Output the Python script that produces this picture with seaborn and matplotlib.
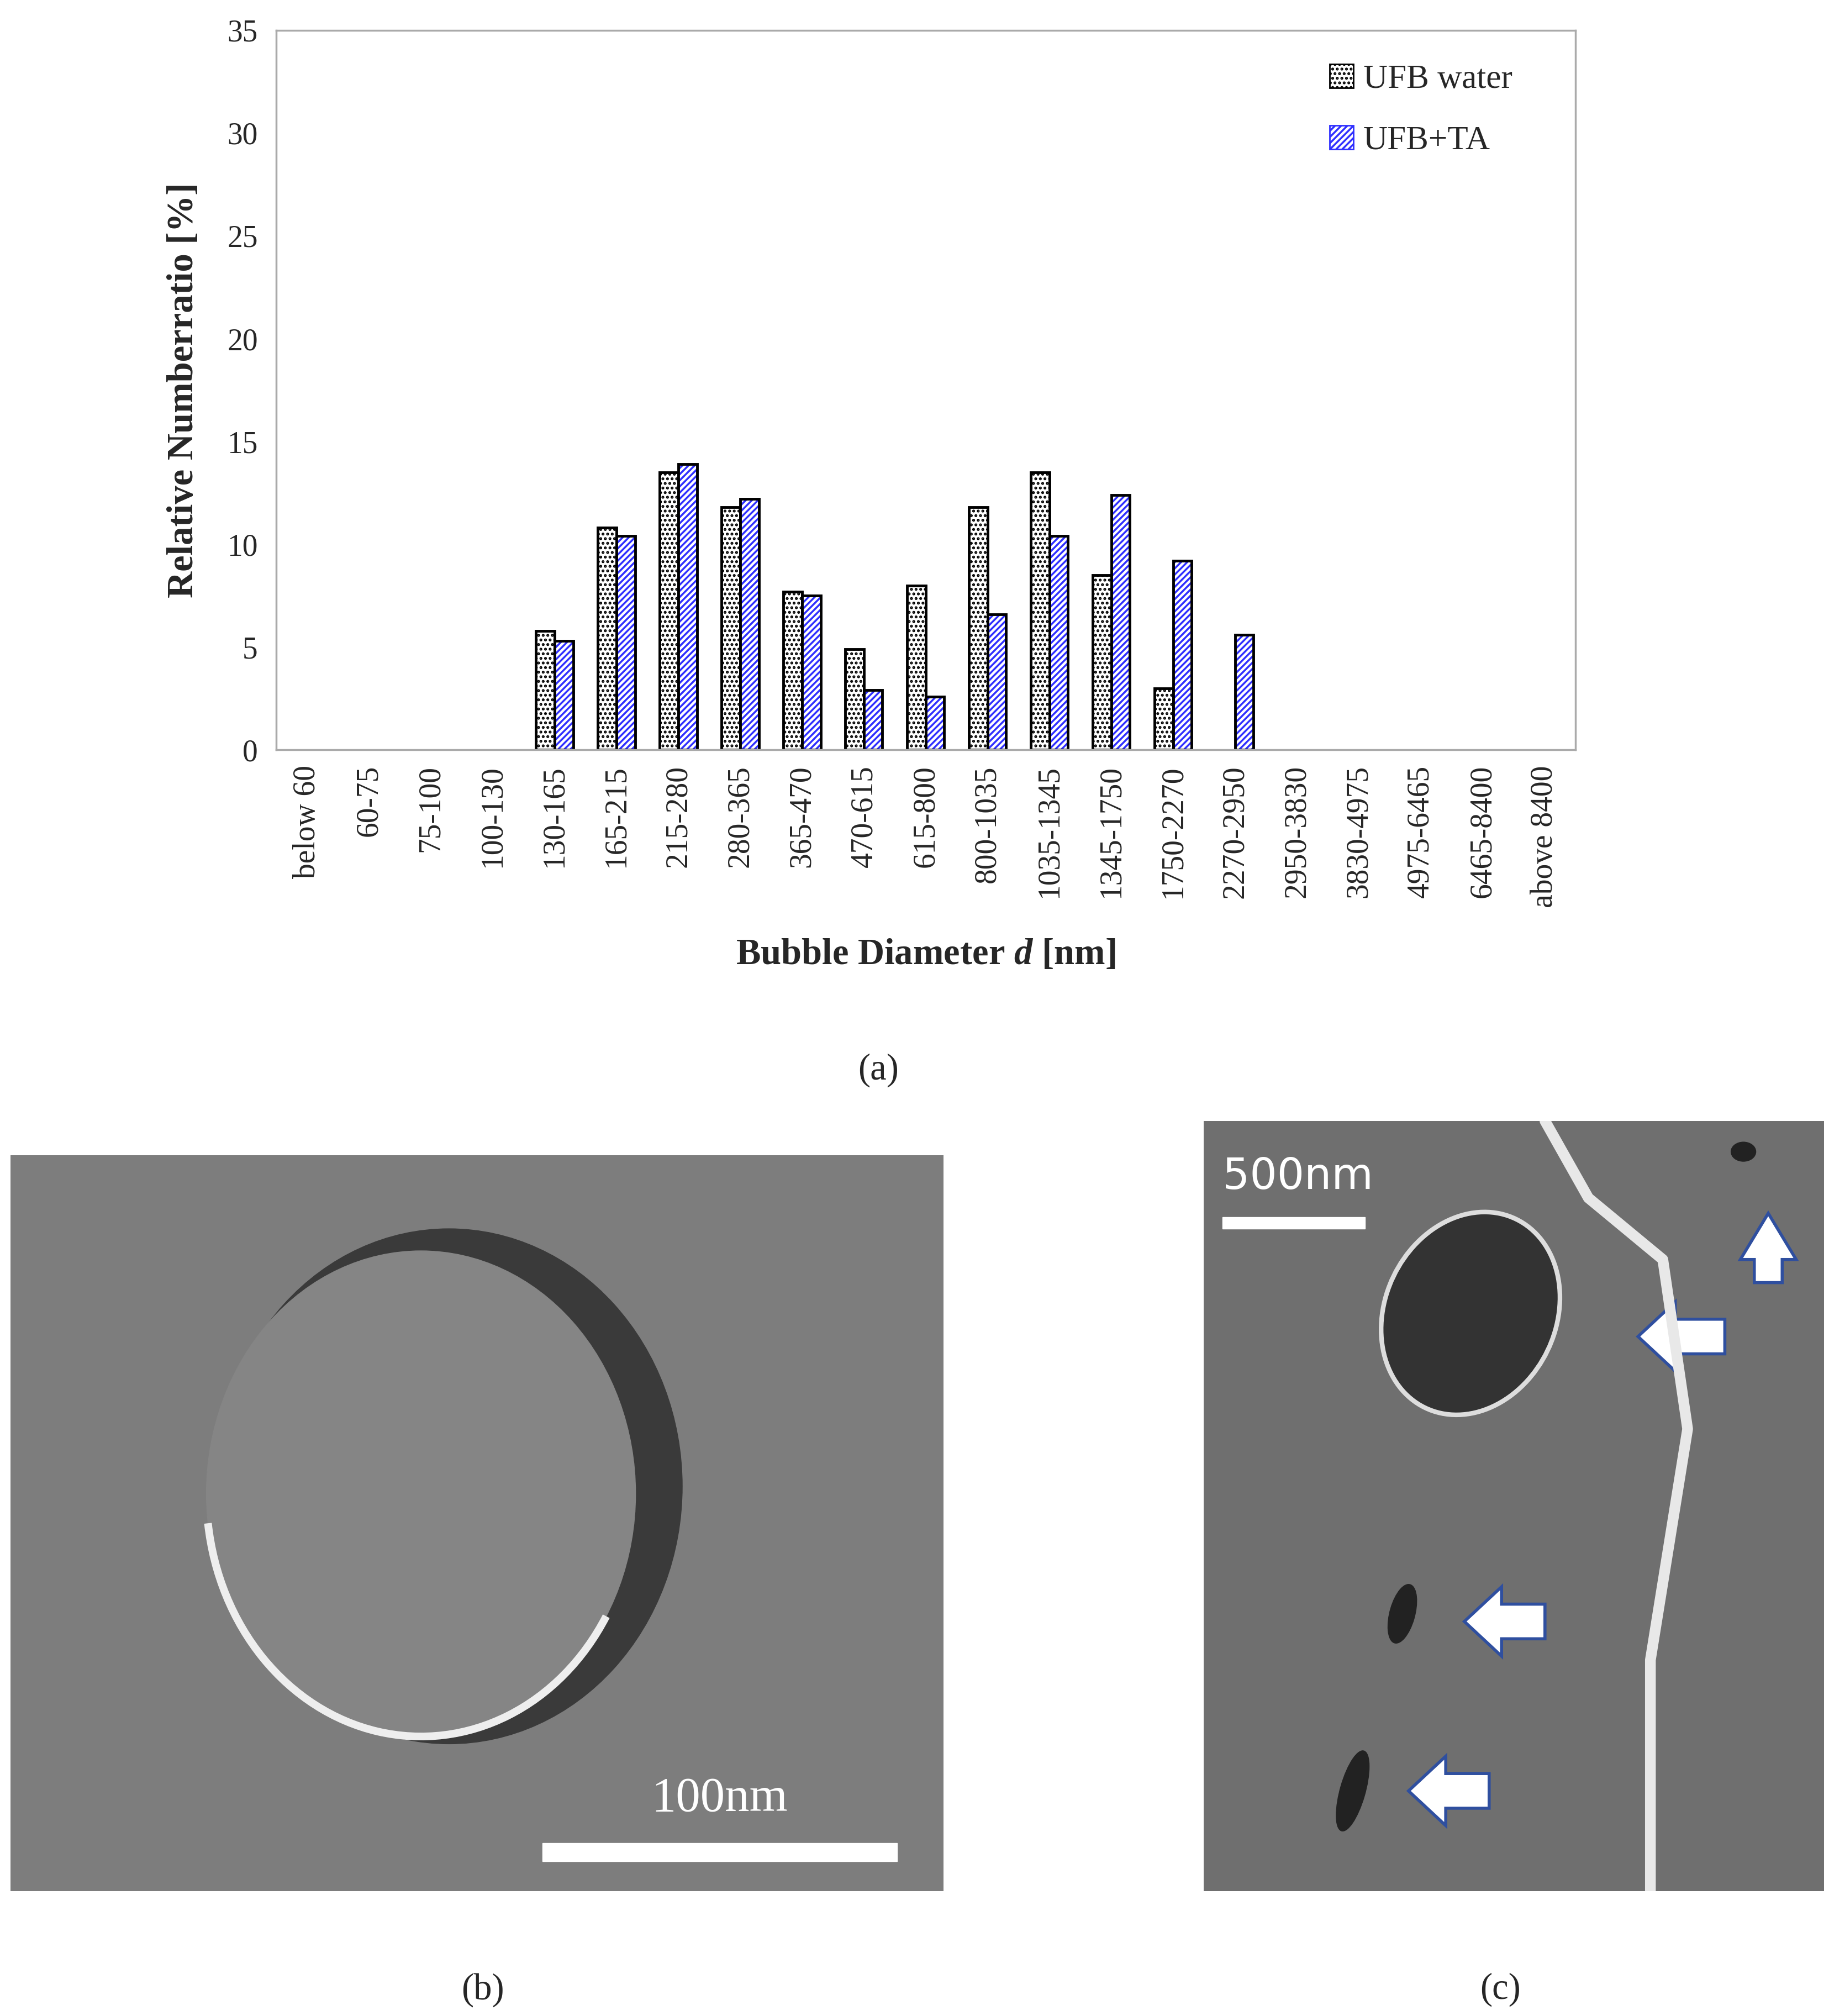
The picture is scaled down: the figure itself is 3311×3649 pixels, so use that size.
import matplotlib
matplotlib.use("Agg")
import matplotlib.pyplot as plt
import seaborn as sns
import pandas as pd
from matplotlib.patches import Ellipse, Arc, FancyArrow, Rectangle

categories = ["below 60", "60-75", "75-100", "100-130", "130-165", "165-215", "215-280",
              "280-365", "365-470", "470-615", "615-800", "800-1035", "1035-1345",
              "1345-1750", "1750-2270", "2270-2950", "2950-3830", "3830-4975",
              "4975-6465", "6465-8400", "above 8400"]
ufb_water = [0, 0, 0, 0, 5.8, 10.8, 13.5, 11.8, 7.7, 4.9, 8.0, 11.8, 13.5, 8.5, 3.0, 0, 0, 0, 0, 0, 0]
ufb_ta = [0, 0, 0, 0, 5.3, 10.4, 13.9, 12.2, 7.5, 2.9, 2.6, 6.6, 10.4, 12.4, 9.2, 5.6, 0, 0, 0, 0, 0]
series = ["UFB water", "UFB+TA"]

df = pd.DataFrame({"cat": categories * 2,
                   "val": ufb_water + ufb_ta,
                   "series": [series[0]] * len(categories) + [series[1]] * len(categories)})

sns.set_style("white")
plt.rcParams["font.family"] = ["Liberation Serif", "DejaVu Serif"]
plt.rcParams["hatch.linewidth"] = 2.5
plt.rcParams["mathtext.fontset"] = "custom"
plt.rcParams["mathtext.bfit"] = "Liberation Serif:bold:italic"
plt.rcParams["mathtext.rm"] = "Liberation Serif"

fig = plt.figure(figsize=(33.12, 36.49), dpi=100)
ax = fig.add_axes([0.151, 0.628, 0.710, 0.357])
sns.barplot(data=df, x="cat", y="val", hue="series", order=categories, hue_order=series,
            palette=["white", "white"], width=0.6, ax=ax, legend=False, saturation=1)

n = len(categories)
for i, p in enumerate(ax.patches[:2 * n]):
    if i < n:
        p.set_hatch(".."); p.set_edgecolor("black")
        p.set_linewidth(3.5)
    else:
        p.set_hatch("///"); p.set_edgecolor("#2f2fff"); p.set_linewidth(0)
        r = Rectangle(p.get_xy(), p.get_width(), p.get_height(), fill=False,
                      edgecolor="black", linewidth=3.5, zorder=p.get_zorder() + 0.1)
        if p.get_height() > 0:
            ax.add_patch(r)
    if p.get_height() == 0:
        p.set_linewidth(0)

ax.set_ylim(0, 35)
ax.set_xlim(-0.5, n - 0.5)
ax.set_yticks(range(0, 36, 5))
ax.set_xticks([i - 0.5 for i in range(n + 1)], minor=True)
ax.set_xticks(range(n))
ax.set_xticklabels(categories, rotation=90, fontsize=40)
ax.tick_params(axis="x", which="major", length=0, pad=20)
ax.tick_params(axis="x", which="minor", length=18, width=2, color="#999999")
ax.tick_params(axis="y", labelsize=40, length=14, width=2, color="#999999", pad=10)
for s in ax.spines.values():
    s.set_color("#aaaaaa"); s.set_linewidth(2.5)
ax.set_xlabel(r"Bubble Diameter $\mathbfit{d}$ [nm]", fontsize=48, fontweight="bold", labelpad=40)
ax.set_ylabel("Relative Numberratio [%]", fontsize=48, fontweight="bold", labelpad=35)

h1 = Rectangle((0, 0), 1, 1, facecolor="white", edgecolor="black", hatch="..", linewidth=2)
h2 = Rectangle((0, 0), 1, 1, facecolor="white", edgecolor="#2f2fff", hatch="///", linewidth=2)
leg = ax.legend([h1, h2], series, loc="upper right", fontsize=44, frameon=False,
                handlelength=0.7, handleheight=0.7, handletextpad=0.3, labelspacing=0.9,
                bbox_to_anchor=(0.975, 0.995))

fig.text(0.480, 0.469, "(a)", fontsize=48, ha="center", va="center")
fig.text(0.264, 0.013, "(b)", fontsize=48, ha="center", va="center")
fig.text(0.820, 0.013, "(c)", fontsize=48, ha="center", va="center")

# panel (b) placeholder micrograph
axb = fig.add_axes([0.0057, 0.062, 0.510, 0.365])
axb.set_xlim(0, 1); axb.set_ylim(0, 1); axb.axis("off")
axb.add_patch(Rectangle((0, 0), 1, 1, color="#7d7d7d"))
axb.add_patch(Ellipse((0.47, 0.55), 0.50, 0.70, color="#3a3a3a"))
axb.add_patch(Ellipse((0.44, 0.54), 0.46, 0.66, color="#858585"))
axb.add_patch(Arc((0.44, 0.54), 0.46, 0.66, theta1=190, theta2=320, color="#eeeeee", lw=10))
axb.add_patch(Rectangle((0.57, 0.04), 0.38, 0.025, color="white"))
axb.text(0.76, 0.095, "100nm", fontsize=64, color="white", ha="center", va="bottom")

# panel (c) placeholder micrograph
axc = fig.add_axes([0.658, 0.062, 0.339, 0.382])
axc.set_xlim(0, 1); axc.set_ylim(0, 1); axc.axis("off")
axc.add_patch(Rectangle((0, 0), 1, 1, color="#6f6f6f"))
axc.plot([0.55, 0.62, 0.74, 0.78, 0.72, 0.72], [1.0, 0.9, 0.82, 0.6, 0.3, 0.0], color="#e8e8e8", lw=14)
axc.add_patch(Ellipse((0.43, 0.75), 0.3, 0.25, angle=30, color="#333333"))
axc.add_patch(Ellipse((0.43, 0.75), 0.3, 0.25, angle=30, fill=False, ec="#dddddd", lw=6))
axc.add_patch(Ellipse((0.32, 0.36), 0.04, 0.08, angle=-20, color="#222222"))
axc.add_patch(Ellipse((0.24, 0.13), 0.04, 0.11, angle=-20, color="#222222"))
axc.add_patch(Ellipse((0.87, 0.96), 0.04, 0.025, color="#222222"))
axc.add_patch(Rectangle((0.03, 0.86), 0.23, 0.015, color="white"))
axc.text(0.03, 0.90, "500nm", fontsize=56, color="white", family="DejaVu Sans", va="bottom")
for (x, y, dx, dy) in [(0.55, 0.35, -0.13, 0), (0.46, 0.13, -0.13, 0), (0.84, 0.72, -0.14, 0), (0.91, 0.79, 0, 0.09)]:
    axc.add_patch(FancyArrow(x, y, dx, dy, width=0.045, head_width=0.09,
                             head_length=0.06, length_includes_head=True, fc="white", ec="#2f4f9f", lw=4))

fig.savefig("out.png", dpi=100)
